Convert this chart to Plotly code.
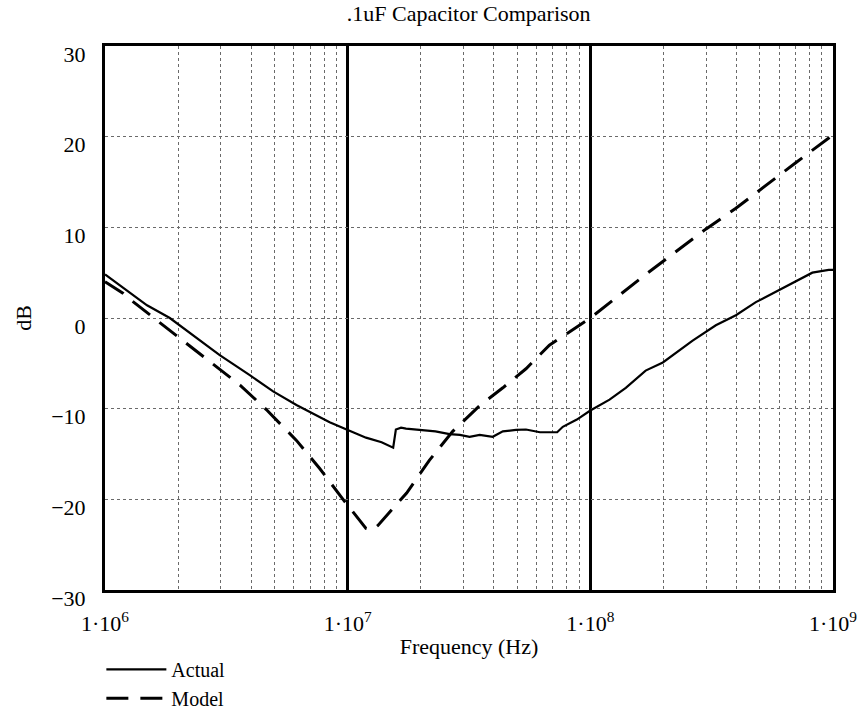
import plotly.graph_objects as go

# ---- data ----
actual_freq_hz = [1.0e6, 1.19e6, 1.49e6, 1.85e6, 2.38e6, 2.97e6, 3.95e6, 4.93e6, 6.15e6, 8.43e6,
                  9.9e6, 1.19e7, 1.38e7, 1.54e7, 1.58e7, 1.66e7, 1.74e7, 2.04e7, 2.3e7, 2.63e7,
                  2.9e7, 3.18e7, 3.5e7, 3.96e7, 4.36e7, 4.94e7, 5.43e7, 6.2e7, 7.3e7, 7.7e7,
                  8.8e7, 1.0e8, 1.2e8, 1.4e8, 1.69e8, 1.99e8, 2.64e8, 3.29e8, 3.98e8, 4.81e8,
                  6.81e8, 8.22e8, 9.6e8, 1.0e9]
actual_db = [4.8, 3.3, 1.4, 0.0, -2.2, -4.1, -6.3, -8.1, -9.6, -11.5,
             -12.3, -13.2, -13.7, -14.3, -12.3, -12.1, -12.2, -12.35, -12.5, -12.8,
             -12.9, -13.1, -12.9, -13.1, -12.5, -12.35, -12.3, -12.6, -12.6, -12.0,
             -11.2, -10.2, -9.0, -7.7, -5.8, -4.9, -2.5, -0.8, 0.3, 1.75,
             3.9, 5.0, 5.3, 5.3]

model_freq_hz = [1.0e6, 1.19e6, 1.29e6, 1.56e6, 2.04e6, 2.7e6, 3.6e6, 3.95e6, 4.62e6, 6.15e6,
                 7.67e6, 9.57e6, 1.19e7, 1.26e7, 1.33e7, 1.61e7, 1.75e7, 2.17e7, 2.71e7, 3.49e7,
                 4.36e7, 5.43e7, 6.78e7, 1.0e8, 1.69e8, 2.99e8, 3.98e8, 7.0e8, 9.3e8, 1.0e9]
model_db = [4.0, 2.7, 1.9, 0.2, -2.2, -4.8, -7.4, -8.4, -10.1, -13.5,
            -16.6, -20.0, -23.2, -23.4, -22.9, -20.4, -19.3, -15.7, -12.5, -9.7,
            -7.7, -5.6, -3.0, 0.0, 4.8, 9.8, 12.1, 17.1, 19.6, 20.2]

x_major_ticks = [1e6, 1e7, 1e8, 1e9]
x_major_labels = ["1\u00b710<sup>6</sup>", "1\u00b710<sup>7</sup>", "1\u00b710<sup>8</sup>", "1\u00b710<sup>9</sup>"]
x_minor_ticks = [m * 10 ** e for e in (6, 7, 8) for m in range(2, 10)]
y_ticks = [-30, -20, -10, 0, 10, 20, 30]
y_labels = ["\u221230", "\u221220", "\u221210", "0", "10", "20", "30"]

FONT = "Liberation Serif, Times New Roman, serif"

fig = go.Figure()
fig.add_trace(go.Scatter(x=actual_freq_hz, y=actual_db, mode="lines", name="Actual",
                         line=dict(color="black", width=2.2)))
fig.add_trace(go.Scatter(x=model_freq_hz, y=model_db, mode="lines", name="Model",
                         line=dict(color="black", width=3, dash="22px,12px")))

fig.update_layout(
    width=860, height=717,
    margin=dict(l=105, r=27, t=46, b=127, autoexpand=False),
    paper_bgcolor="white", plot_bgcolor="white",
    font=dict(family=FONT, size=22, color="black"),
    title=dict(text=".1uF Capacitor Comparison", x=0.545, xanchor="center",
               y=0.982, yanchor="middle", font=dict(family=FONT, size=22, color="black")),
    legend=dict(x=-0.005, y=-0.11, xanchor="left", yanchor="top",
                bgcolor="rgba(0,0,0,0)", font=dict(family=FONT, size=20),
                tracegroupgap=0, itemwidth=60),
    showlegend=True,
)

fig.update_xaxes(
    type="log", range=[6, 9], automargin=False,
    tickmode="array", tickvals=x_major_ticks, ticktext=x_major_labels,
    ticks="", ticklabelstandoff=12,
    showgrid=True, gridcolor="black", gridwidth=3,
    minor=dict(tickmode="array", tickvals=x_minor_ticks, showgrid=True,
               gridcolor="#6a6a6a", gridwidth=1, griddash="dot", ticks=""),
    showline=True, linecolor="black", linewidth=3, mirror=True,
    zeroline=False,
    title=dict(text="Frequency (Hz)", standoff=4, font=dict(family=FONT, size=22)),
    tickfont=dict(family=FONT, size=22),
)
fig.update_yaxes(
    range=[-30, 30], automargin=False,
    tickmode="array", tickvals=y_ticks, ticktext=y_labels,
    ticks="", ticklabelstandoff=12, ticklabelshift=8,
    showgrid=True, gridcolor="#6a6a6a", gridwidth=1, griddash="dot",
    showline=True, linecolor="black", linewidth=3, mirror=True,
    zeroline=False,
    title=dict(text="dB", standoff=14, font=dict(family=FONT, size=22)),
    tickfont=dict(family=FONT, size=22),
)

fig.write_html("out.html")
